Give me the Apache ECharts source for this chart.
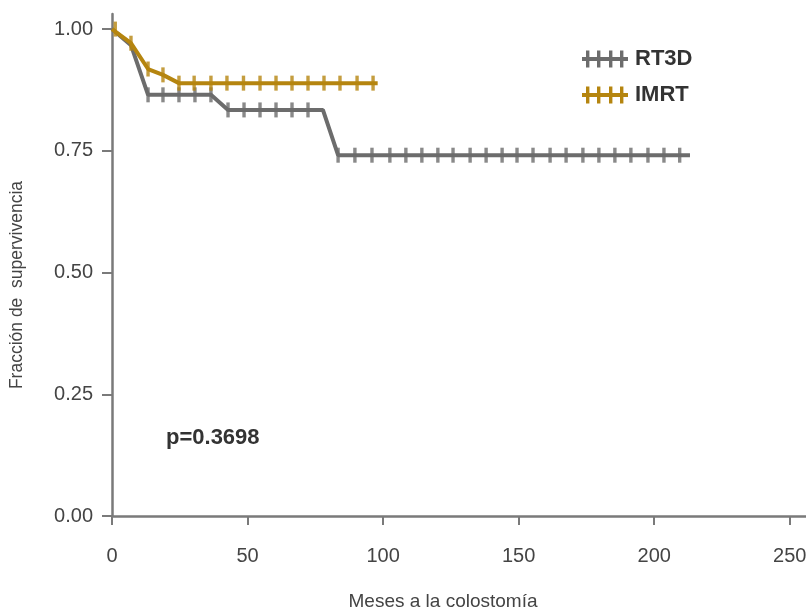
<!DOCTYPE html>
<html>
<head>
<meta charset="utf-8">
<script src="https://cdn.jsdelivr.net/npm/echarts@6/dist/echarts.min.js"></script>
<style>
  html, body { margin: 0; padding: 0; background: #fff; }
  #chart { width: 806px; height: 615px; }
</style>
</head>
<body>
<div id="chart"></div>
<script>
// curve vertices (months, survival fraction)
const rt3dTime = [0, 7, 13.3, 36.5, 42.8, 77.8, 83.4, 213.2];
const rt3dSurv = [1.0, 0.967, 0.865, 0.865, 0.834, 0.834, 0.741, 0.741];
const imrtTime = [0, 7, 13.3, 18.8, 24.7, 98.0];
const imrtSurv = [1.0, 0.971, 0.918, 0.906, 0.889, 0.889];

// censored observations (tick marks)
const rt3dCensorTime = [13.3, 18.8, 24.7, 30.6, 36.5, 42.8, 48.7, 54.6, 60.5, 66.4, 72.3,
  83.4, 89.6, 95.9, 102.5, 108.4, 114.3, 120.2, 125.8, 132.1, 138.0, 143.9, 149.4,
  155.3, 161.6, 167.5, 173.7, 179.6, 185.5, 191.4, 197.7, 203.6, 209.4];
const rt3dCensorSurv = [0.865, 0.865, 0.865, 0.865, 0.865, 0.834, 0.834, 0.834, 0.834, 0.834, 0.834,
  0.741, 0.741, 0.741, 0.741, 0.741, 0.741, 0.741, 0.741, 0.741, 0.741, 0.741, 0.741,
  0.741, 0.741, 0.741, 0.741, 0.741, 0.741, 0.741, 0.741, 0.741, 0.741];
const imrtCensorTime = [1.2, 7, 13.3, 18.8, 24.7, 30.3, 36.5, 42.4, 48.5, 54.6, 60.5, 66.4, 72.3, 78.2, 84.1, 90.4, 96.3];
const imrtCensorSurv = [1.0, 0.971, 0.918, 0.906, 0.889, 0.889, 0.889, 0.889, 0.889, 0.889, 0.889, 0.889, 0.889, 0.889, 0.889, 0.889, 0.889];

const xTicks = [0, 50, 100, 150, 200, 250];
const yTicks = [0, 0.25, 0.5, 0.75, 1];

const grey = '#6c6c6c';
const gold = '#b5850f';
const font = "'Liberation Sans', Arial, sans-serif";
const legendIcon = 'path://M0,6.5h46v4H0z M4,0h3.4v17H4z M15,0h3.4v17h-3.4z M27,0h3.4v17h-3.4z M38,0h3.4v17h-3.4z';

function pairs(xs, ys) {
  return xs.map((x, i) => [x, ys[i]]);
}

const chart = echarts.init(document.getElementById('chart'));
chart.setOption({
  animation: false,
  backgroundColor: '#fff',
  grid: { left: 112, right: 0, top: 14, bottom: 99, outerBoundsMode: 'none' },
  legend: {
    orient: 'vertical',
    left: 577,
    top: 43,
    itemWidth: 46,
    itemHeight: 17,
    itemGap: 14,
    data: [{ name: 'RT3D', icon: legendIcon }, { name: 'IMRT', icon: legendIcon }],
    textStyle: { fontFamily: font, fontWeight: 'bold', fontSize: 22, color: '#333', padding: [0, 0, 0, 2] }
  },
  xAxis: {
    type: 'value',
    min: 0,
    max: 256,
    offset: 6,
    name: 'Meses a la colostomía',
    nameLocation: 'middle',
    nameGap: 70,
    nameTextStyle: { fontFamily: font, fontSize: 19, color: '#444', padding: [0, 32, 0, 0] },
    splitLine: { show: false },
    axisLine: { lineStyle: { color: '#7a7a7a', width: 2.5 } },
    axisTick: { length: 9, customValues: xTicks, lineStyle: { color: '#7a7a7a', width: 2 } },
    axisLabel: { customValues: xTicks, margin: 24, fontFamily: font, fontSize: 20, color: '#444' }
  },
  yAxis: {
    type: 'value',
    min: 0,
    max: 1.031,
    offset: 5,
    name: 'Fracción de  supervivencia',
    nameLocation: 'middle',
    nameGap: 81,
    nameTextStyle: { fontFamily: font, fontSize: 17.5, color: '#444', padding: [0, 40, 0, 0] },
    splitLine: { show: false },
    axisLine: { show: true, lineStyle: { color: '#7a7a7a', width: 2.5 } },
    axisTick: { show: true, length: 10, customValues: yTicks, lineStyle: { color: '#7a7a7a', width: 2 } },
    axisLabel: {
      customValues: yTicks, margin: 14, fontFamily: font, fontSize: 20, color: '#444',
      formatter: v => v.toFixed(2)
    }
  },
  graphic: [{
    type: 'text',
    left: 166,
    top: 427,
    style: { text: 'p=0.3698', fontFamily: font, fontWeight: 'bold', fontSize: 22, fill: '#333' }
  }],
  series: [
    {
      name: 'RT3D', type: 'line', data: pairs(rt3dTime, rt3dSurv),
      showSymbol: false, lineStyle: { color: grey, width: 4 }, itemStyle: { color: grey }, z: 2
    },
    {
      name: 'RT3D', type: 'scatter', data: pairs(rt3dCensorTime, rt3dCensorSurv),
      symbol: 'rect', symbolSize: [3.4, 15], itemStyle: { color: grey }, z: 2
    },
    {
      name: 'IMRT', type: 'line', data: pairs(imrtTime, imrtSurv),
      showSymbol: false, lineStyle: { color: gold, width: 4 }, itemStyle: { color: gold }, z: 3
    },
    {
      name: 'IMRT', type: 'scatter', data: pairs(imrtCensorTime, imrtCensorSurv),
      symbol: 'rect', symbolSize: [3.4, 15], itemStyle: { color: gold }, z: 3
    }
  ]
});
</script>
</body>
</html>
